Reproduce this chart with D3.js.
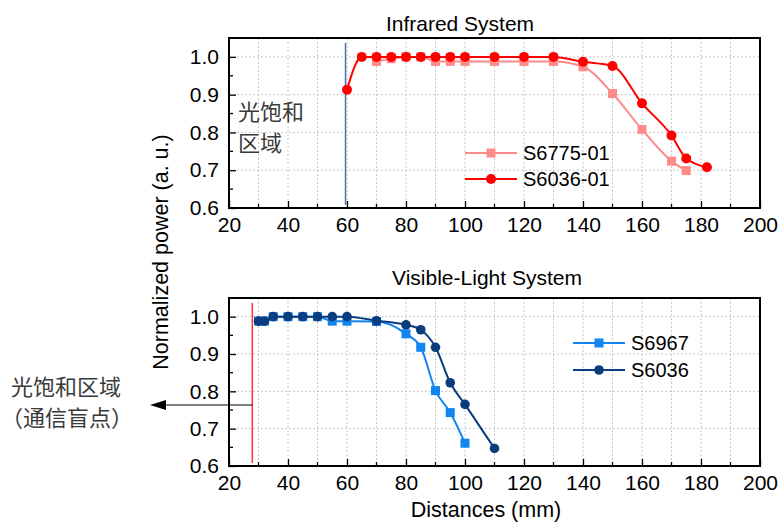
<!DOCTYPE html>
<html>
<head>
<meta charset="utf-8">
<script src="https://cdn.jsdelivr.net/npm/d3@7"></script>
<style>
  body { margin: 0; background: #fff; }
  text { font-family: "Liberation Sans", Arial, sans-serif; fill: #000; }
  .cjk { font-family: "Noto Sans CJK SC", sans-serif; fill: #3a3a3a; }
</style>
</head>
<body>
<div id="chart"></div>
<script>
// Infrared system
const irX6775 = [70, 75, 80, 85, 90, 95, 100, 110, 120, 130, 140, 150, 160, 170, 175];
const irY6775 = [0.988, 0.995, 1.0, 1.0, 0.988, 0.988, 0.988, 0.988, 0.988, 0.988, 0.974, 0.903, 0.808, 0.724, 0.699];
const irX6036 = [60, 65, 70, 75, 80, 85, 90, 95, 100, 110, 120, 130, 140, 150, 160, 170, 175, 182];
const irY6036 = [0.913, 1.0, 1.0, 1.0, 1.0, 1.0, 1.0, 1.0, 1.0, 1.0, 1.0, 1.0, 0.987, 0.976, 0.877, 0.792, 0.731, 0.708];

// Visible-light system
const vlX6967 = [30, 32, 35, 40, 45, 50, 55, 60, 70, 80, 85, 90, 95, 100];
const vlY6967 = [0.988, 0.988, 1.0, 1.0, 1.0, 1.0, 0.988, 0.988, 0.987, 0.954, 0.918, 0.802, 0.743, 0.661];
const vlX6036 = [30, 32, 35, 40, 45, 50, 55, 60, 70, 80, 85, 90, 95, 100, 110];
const vlY6036 = [0.988, 0.988, 1.0, 1.0, 1.0, 1.0, 1.0, 1.0, 0.989, 0.978, 0.965, 0.918, 0.823, 0.765, 0.647];

const xTicks = [20, 40, 60, 80, 100, 120, 140, 160, 180, 200];
const yTicks = [0.6, 0.7, 0.8, 0.9, 1.0];

const W = 781, H = 523;
const svg = d3.select('#chart').append('svg')
    .attr('width', W).attr('height', H);

const defs = svg.append('defs');
defs.append('marker')
    .attr('id', 'arrowhead')
    .attr('viewBox', '0 -5 16 10')
    .attr('refX', 0).attr('refY', 0)
    .attr('orient', 'auto')
    .attr('markerUnits', 'userSpaceOnUse')
    .attr('markerWidth', 16).attr('markerHeight', 10)
    .append('path')
    .attr('d', 'M0,-5L16,0L0,5Z')
    .attr('fill', '#000');

function drawPanel(cfg) {
    const x = d3.scaleLinear().domain([20, 200]).range([cfg.left, cfg.right]);
    const y = d3.scaleLinear().domain([0.6, 1.05]).range([cfg.bottom, cfg.top]);
    const g = svg.append('g');

    // dotted grid
    g.selectAll('line.gx').data(d3.range(30, 200, 10)).enter().append('line')
        .attr('x1', d => x(d)).attr('x2', d => x(d))
        .attr('y1', cfg.top).attr('y2', cfg.bottom)
        .attr('stroke', '#c8c8c8').attr('stroke-width', 1).attr('stroke-dasharray', '2,2');
    g.selectAll('line.gy').data([0.7, 0.8, 0.9, 1.0]).enter().append('line')
        .attr('x1', cfg.left).attr('x2', cfg.right)
        .attr('y1', d => y(d)).attr('y2', d => y(d))
        .attr('stroke', '#c8c8c8').attr('stroke-width', 1).attr('stroke-dasharray', '2,2');

    // axes with inward ticks
    const xAxis = d3.axisBottom(x).tickValues(xTicks).tickSize(-7).tickPadding(9).tickFormat(d3.format('d'));
    const xa = g.append('g').attr('transform', `translate(0,${cfg.bottom})`).call(xAxis);
    const yAxis = d3.axisLeft(y).tickValues(yTicks).tickSize(-7).tickPadding(10).tickFormat(d3.format('.1f'));
    const ya = g.append('g').attr('transform', `translate(${cfg.left},0)`).call(yAxis);
    [xa, ya].forEach(a => {
        a.select('.domain').remove();
        a.selectAll('.tick line').attr('stroke', '#000').attr('stroke-width', 1.3);
        a.selectAll('.tick text').style('font-size', '21px').attr('fill', '#000');
    });
    // minor ticks
    g.selectAll('line.mx').data(d3.range(30, 200, 20)).enter().append('line')
        .attr('x1', d => x(d)).attr('x2', d => x(d))
        .attr('y1', cfg.bottom).attr('y2', cfg.bottom - 4)
        .attr('stroke', '#000').attr('stroke-width', 1.3);
    g.selectAll('line.my').data([0.65, 0.75, 0.85, 0.95]).enter().append('line')
        .attr('x1', cfg.left).attr('x2', cfg.left + 4)
        .attr('y1', d => y(d)).attr('y2', d => y(d))
        .attr('stroke', '#000').attr('stroke-width', 1.3);

    // frame
    g.append('rect')
        .attr('x', cfg.left).attr('y', cfg.top)
        .attr('width', cfg.right - cfg.left).attr('height', cfg.bottom - cfg.top)
        .attr('fill', 'none').attr('stroke', '#000').attr('stroke-width', 2);

    // title
    g.append('text')
        .attr('x', cfg.titleX).attr('y', cfg.titleY)
        .attr('text-anchor', 'middle')
        .style('font-size', '21px')
        .text(cfg.title);

    // saturation boundary line
    g.append('line')
        .attr('x1', x(cfg.vline)).attr('x2', x(cfg.vline))
        .attr('y1', cfg.top + 5).attr('y2', cfg.bottom - 3)
        .attr('stroke', cfg.vlineColor).attr('stroke-width', 1.5);

    // series
    cfg.series.forEach(s => {
        const pts = s.xs.map((v, i) => [v, s.ys[i]]);
        const line = d3.line().x(d => x(d[0])).y(d => y(d[1])).curve(d3.curveMonotoneX);
        g.append('path').datum(pts)
            .attr('d', line)
            .attr('fill', 'none').attr('stroke', s.color).attr('stroke-width', 2);
        drawMarkers(g, pts.map(d => [x(d[0]), y(d[1])]), s);
    });

    // legend
    cfg.series.forEach((s, i) => {
        const ly = cfg.legendY + i * cfg.legendStep;
        g.append('line')
            .attr('x1', cfg.legendX).attr('x2', cfg.legendX + 52)
            .attr('y1', ly).attr('y2', ly)
            .attr('stroke', s.color).attr('stroke-width', 2);
        drawMarkers(g, [[cfg.legendX + 26, ly]], s);
        g.append('text')
            .attr('x', cfg.legendX + 58).attr('y', ly + 7)
            .style('font-size', '20px')
            .text(s.name);
    });
    return { x, y };
}

function drawMarkers(g, pts, s) {
    if (s.shape === 'circle') {
        g.selectAll(null).data(pts).enter().append('circle')
            .attr('cx', d => d[0]).attr('cy', d => d[1])
            .attr('r', s.size).attr('fill', s.color);
    } else {
        g.selectAll(null).data(pts).enter().append('rect')
            .attr('x', d => d[0] - s.size).attr('y', d => d[1] - s.size)
            .attr('width', s.size * 2).attr('height', s.size * 2)
            .attr('fill', s.color);
    }
}

drawPanel({
    left: 229, right: 760, top: 38, bottom: 208,
    title: 'Infrared System', titleX: 460, titleY: 31,
    vline: 59.5, vlineColor: '#4a72b0',
    legendX: 465, legendY: 153, legendStep: 26,
    series: [
        { name: 'S6775-01', xs: irX6775, ys: irY6775, color: '#ff8a8a', shape: 'square', size: 4.5 },
        { name: 'S6036-01', xs: irX6036, ys: irY6036, color: '#ff0000', shape: 'circle', size: 5 }
    ]
});

const bottomPanel = drawPanel({
    left: 229, right: 760, top: 298, bottom: 466,
    title: 'Visible-Light System', titleX: 487, titleY: 285,
    vline: 27.9, vlineColor: '#ff3030',
    legendX: 573, legendY: 343, legendStep: 27,
    series: [
        { name: 'S6967', xs: vlX6967, ys: vlY6967, color: '#1185f0', shape: 'square', size: 4.5 },
        { name: 'S6036', xs: vlX6036, ys: vlY6036, color: '#0b3c7d', shape: 'circle', size: 4.8 }
    ]
});

// shared axis titles
svg.append('text')
    .attr('transform', 'translate(168,252) rotate(-90)')
    .attr('text-anchor', 'middle')
    .style('font-size', '21.5px')
    .text('Normalized power (a. u.)');
svg.append('text')
    .attr('x', 486).attr('y', 517)
    .attr('text-anchor', 'middle')
    .style('font-size', '21.5px')
    .text('Distances (mm)');

// annotations
svg.append('text').attr('class', 'cjk')
    .attr('x', 238).attr('y', 120)
    .style('font-size', '22px')
    .text('光饱和');
svg.append('text').attr('class', 'cjk')
    .attr('x', 238).attr('y', 151)
    .style('font-size', '22px')
    .text('区域');

const arrowY = 405;
svg.append('line')
    .attr('x1', bottomPanel.x(27.9)).attr('x2', 166)
    .attr('y1', arrowY).attr('y2', arrowY)
    .attr('stroke', '#000').attr('stroke-width', 1)
    .attr('marker-end', 'url(#arrowhead)');

svg.append('text').attr('class', 'cjk')
    .attr('x', 11).attr('y', 395)
    .style('font-size', '22px')
    .text('光饱和区域');
svg.append('text').attr('class', 'cjk')
    .attr('x', 1).attr('y', 426)
    .style('font-size', '22px')
    .text('（通信盲点）');
</script>
</body>
</html>
